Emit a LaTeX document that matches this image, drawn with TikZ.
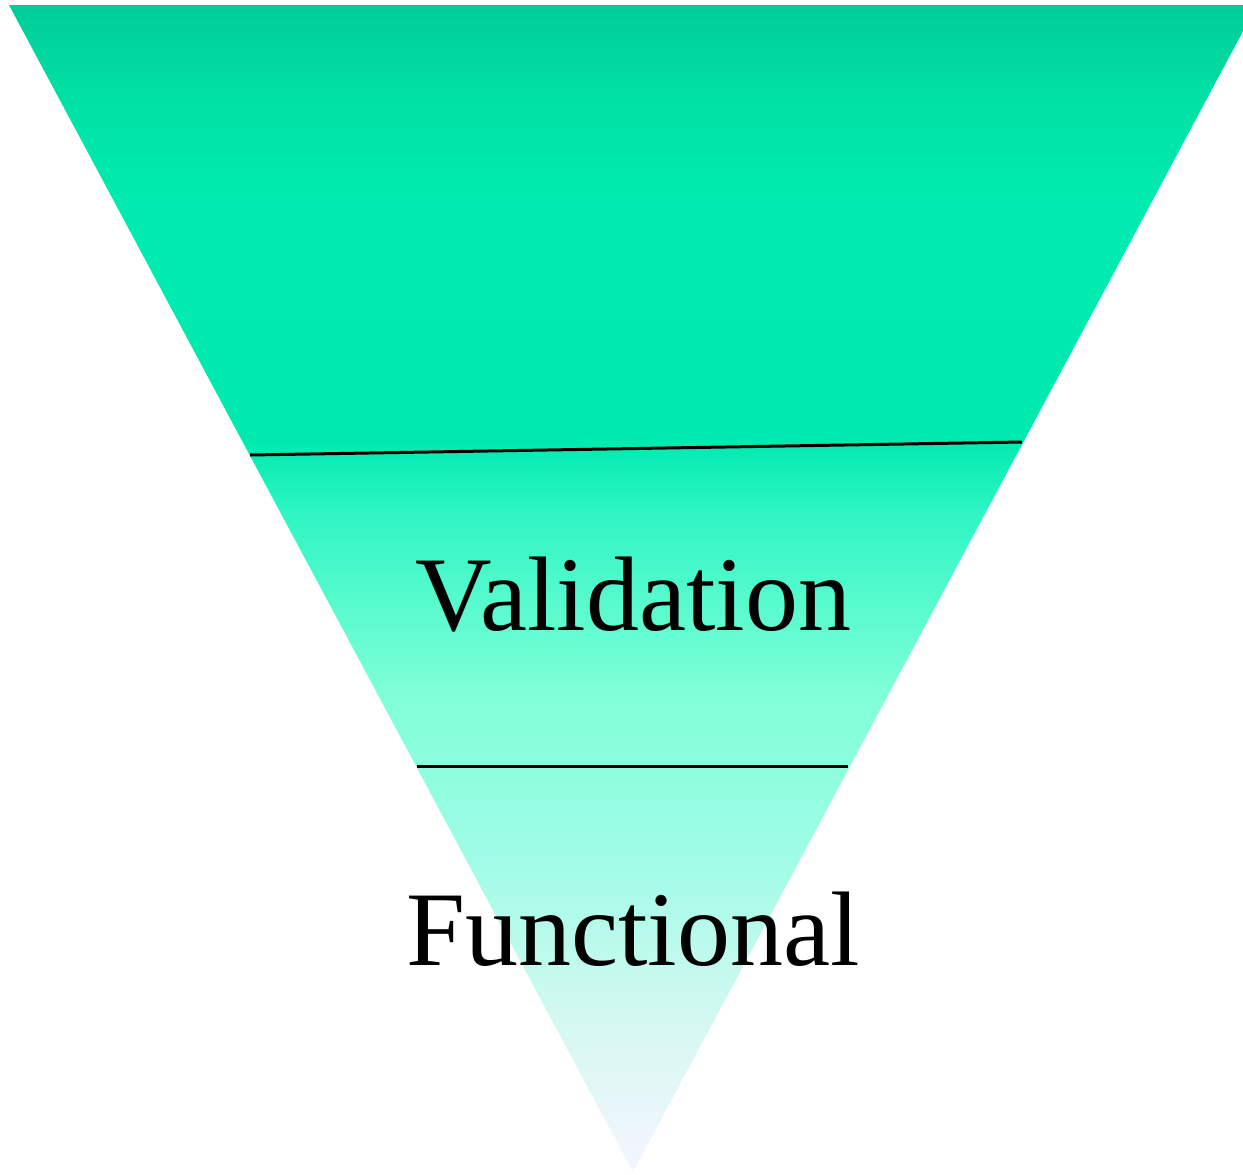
\documentclass[tikz,border=0pt]{standalone}
\usepackage{fontspec}
\setmainfont{Liberation Serif}
\definecolor{c1}{RGB}{0,204,153}
\definecolor{c2}{RGB}{0,225,165}
\definecolor{c3}{RGB}{0,235,175}
\definecolor{c4}{RGB}{0,234,175}
\definecolor{c5}{RGB}{45,245,195}
\definecolor{c6}{RGB}{127,255,215}
\definecolor{c7}{RGB}{160,252,230}
\definecolor{c8}{RGB}{215,248,242}
\definecolor{c9}{RGB}{245,245,255}
\pgfdeclareverticalshading{funnelshade}{100bp}{
  color(0bp)=(c9); color(25bp)=(c9); color(31.08bp)=(c8); color(38.37bp)=(c7);
  color(45.65bp)=(c6); color(53.36bp)=(c5); color(56.36bp)=(c4); color(66.65bp)=(c3);
  color(70.93bp)=(c2); color(75bp)=(c1); color(100bp)=(c1)}
\tikzset{
  divider/.style={draw=black, line width=1.5pt},
  layerlabel/.style={anchor=base, inner sep=0pt, font=\fontsize{53pt}{60pt}\selectfont}
}
\begin{document}
\begin{tikzpicture}[x=0.5pt,y=-0.5pt]
\useasboundingbox (0,0) rectangle (1243,1174);
\clip (0,0) rectangle (1243,1174);
\coordinate (tl) at (9,5);
\coordinate (tr) at (1257,5);
\coordinate (apex) at (633,1172);
\shade[shading=funnelshade] (tl) -- (tr) -- (apex) -- cycle;
\coordinate (d1l) at (250,455);
\coordinate (d1r) at (1022,442);
\coordinate (d2l) at (417,766);
\coordinate (d2r) at (848,766);
\draw[divider] (d1l) -- (d1r);
\draw[divider] (d2l) -- (d2r);
\node[layerlabel] (validation) at (633,630) {Validation};
\node[layerlabel] (functional) at (633,965) {Functional};
\end{tikzpicture}
\end{document}
